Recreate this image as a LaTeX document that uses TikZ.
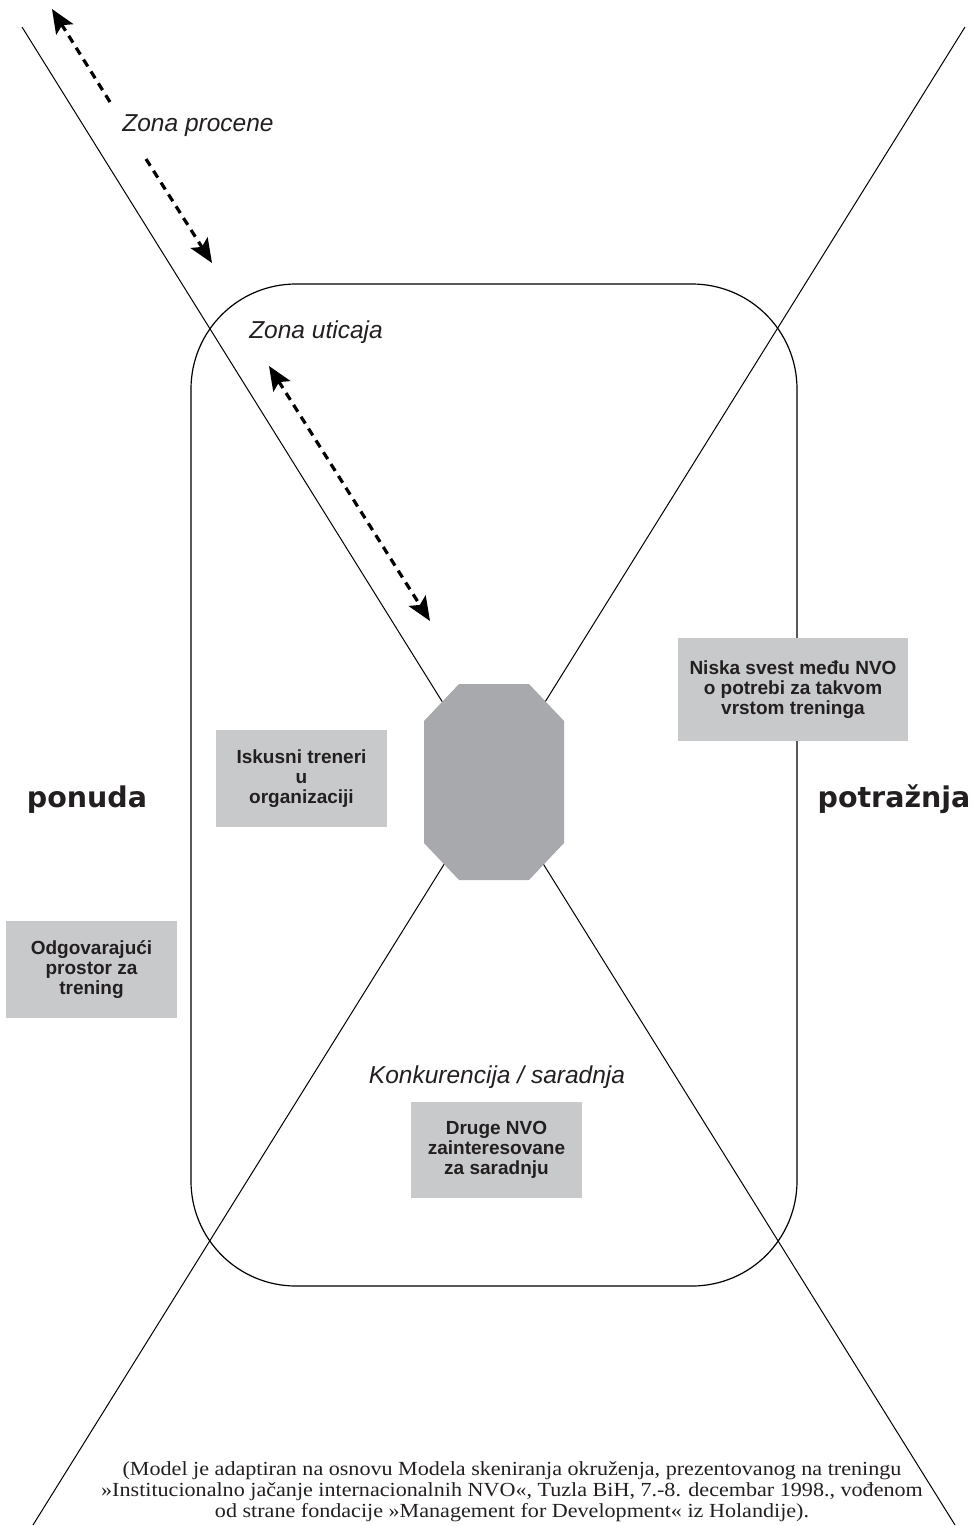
\documentclass[tikz,border=0pt]{standalone}
\usepackage{fontspec}
\setmainfont{Liberation Serif}
\setsansfont{Liberation Sans}
\newfontfamily\heavyfont{DejaVu Sans}
\newfontfamily\notefont{Liberation Serif}[FakeStretch=1.105]
\usetikzlibrary{arrows.meta}
\definecolor{inkgray}{HTML}{231F20}
\definecolor{boxgray}{HTML}{C8C9CB}
\definecolor{coregray}{HTML}{A8A9AD}
\tikzset{zonetip/.tip={Stealth[length=24pt,width=20pt,inset=5pt]}}

\begin{document}
\begin{tikzpicture}[x=1pt,y=-1pt,
        factor/.style={fill=boxgray,text=inkgray,inner sep=0pt,align=center,
            minimum width=171pt,minimum height=97pt,
            font=\sffamily\bfseries\fontsize{19}{20}\selectfont},
        zone/.style={text=inkgray,font=\sffamily\itshape\fontsize{24.5}{28}\selectfont},
        side/.style={text=inkgray,anchor=base,font=\heavyfont\bfseries\fontsize{28.5}{32}\selectfont},
        zonerange/.style={line width=3.2pt,dash pattern=on 8pt off 6pt}]
        \useasboundingbox (0,0) rectangle (973,1526);

        % the two axes crossing behind the core
        \coordinate (nw) at (22,27);
        \coordinate (se) at (955,1525);
        \coordinate (ne) at (965,27);
        \coordinate (sw) at (33,1525);
        \draw[line width=1pt] (nw) -- (se);
        \draw[line width=1pt] (ne) -- (sw);

        % zone of influence
        \draw[line width=1.2pt,rounded corners=105pt] (191,284) rectangle (797,1286);

        % the organisation itself
        \coordinate (core) at (494,782);
        \fill[coregray] (459,684) -- (529,684) -- (564,721) -- (564,843)
            -- (529,880) -- (459,880) -- (424,843) -- (424,721) -- cycle;

        \node[factor,minimum width=230pt,minimum height=103pt] (awareness) at (793,689.5)
            {Niska svest među NVO\\o potrebi za takvom\\vrstom treninga};
        \node[factor] (trainers) at (301.5,778.5) {Iskusni treneri\\u\\organizaciji};
        \node[factor] (space) at (91.5,969.5) {Odgovarajući\\prostor za\\trening};
        \node[factor,minimum height=96pt] (partners) at (496.5,1150)
            {Druge NVO\\zainteresovane\\za saradnju};

        \node[zone] (assess) at (198,125.5) {Zona procene};
        \node[zone] (impact) at (316,332.5) {Zona uticaja};
        \node[zone] (rivalry) at (497,1077) {Konkurencija / saradnja};

        \node[side] (supply) at (87,807) {ponuda};
        \node[side] (demand) at (894,807) {potražnja};

        % dashed ranges
        \coordinate (assess top) at (52,9);
        \coordinate (assess upper) at (110,102);
        \coordinate (assess lower) at (146,159);
        \coordinate (assess bottom) at (212,263);
        \draw[zonerange,-zonetip] (assess upper) -- (assess top);
        \draw[zonerange,-zonetip] (assess lower) -- (assess bottom);
        \coordinate (impact top) at (269,366);
        \coordinate (impact bottom) at (430,621);
        \draw[zonerange,zonetip-zonetip] (impact top) -- (impact bottom);

        \node[text=inkgray,align=center,font=\notefont\fontsize{20}{21}\selectfont] (source) at (512,1492)
            {(Model je adaptiran na osnovu Modela skeniranja okruženja, prezentovanog na treningu\\
            »Institucionalno jačanje internacionalnih NVO«, Tuzla BiH, 7.-8. decembar 1998., vođenom\\
            od strane fondacije »Management for Development« iz Holandije).};
\end{tikzpicture}
\end{document}
